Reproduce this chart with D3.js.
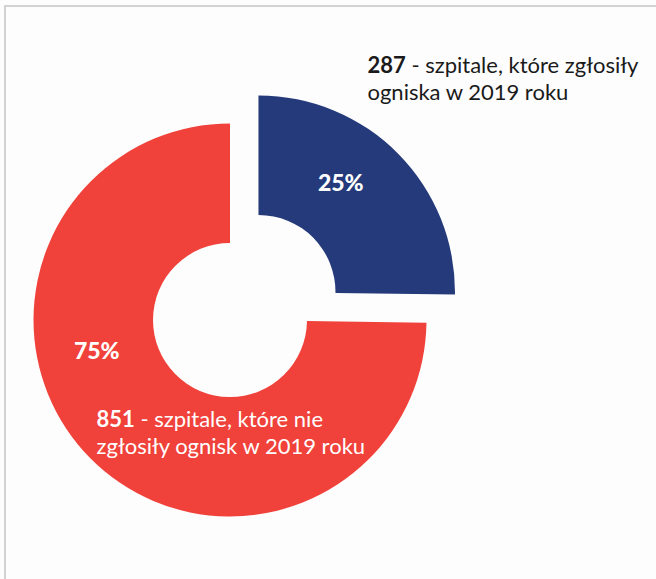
<!DOCTYPE html>
<html>
<head>
<meta charset="utf-8">
<script src="https://cdn.jsdelivr.net/npm/d3@7"></script>
<style>
  html, body { margin: 0; padding: 0; background: #fdfdfd; }
  svg { display: block; }
  text { font-family: Lato, "Open Sans", sans-serif; }
</style>
</head>
<body>
<div id="chart"></div>
<script>
// Hospitals reporting outbreaks in 2019
const categories = ["reported", "notReported"];
const counts = [287, 851];
const percents = ["25%", "75%"];
const countLabels = ["287", "851"];
const descriptions = [
  [" - szpitale, które zgłosiły", "ogniska w 2019 roku"],
  [" - szpitale, które nie", "zgłosiły ognisk w 2019 roku"]
];
const colors = ["#243a7a", "#f0423a"];

const width = 656, height = 579;
const cx = 230, cy = 320;
const outerR = 196.5, innerR = 77;
const explode = 40;

const svg = d3.select("#chart").append("svg")
  .attr("width", width).attr("height", height);

svg.append("rect").attr("width", width).attr("height", height).attr("fill", "#fdfdfd");

// frame along the top and left edges
svg.append("path")
  .attr("d", `M5,${height} V6 H${width}`)
  .attr("fill", "none")
  .attr("stroke", "#d2d2d2")
  .attr("stroke-width", 2);

const color = d3.scaleOrdinal().domain(categories).range(colors);

const pie = d3.pie().sort(null).value(d => d.value);
const data = categories.map((c, i) => ({ key: c, value: counts[i], pct: percents[i] }));
const arcs = pie(data);

const arc = d3.arc().innerRadius(innerR).outerRadius(outerR);

const g = svg.append("g").attr("transform", `translate(${cx},${cy})`);

// the smaller slice is pulled out along its mid angle
const offset = (d, i) => {
  if (i !== 0) return [0, 0];
  const mid = (d.startAngle + d.endAngle) / 2;
  return d3.pointRadial(mid, explode);
};

const slices = g.selectAll("g.slice").data(arcs).join("g")
  .attr("class", "slice")
  .attr("transform", (d, i) => `translate(${offset(d, i)})`);

slices.append("path")
  .attr("d", arc)
  .attr("fill", d => color(d.data.key));

// percentage labels inside each ring segment
const labelAngles = [37 * Math.PI / 180, 257 * Math.PI / 180];
slices.append("text")
  .attr("transform", (d, i) => `translate(${d3.pointRadial(labelAngles[i], (innerR + outerR) / 2)})`)
  .attr("text-anchor", "middle")
  .attr("dy", "0.35em")
  .attr("fill", "#ffffff")
  .attr("font-weight", 900)
  .attr("font-size", 23)
  .text(d => d.data.pct);

// descriptive captions
const captions = [
  { x: 367.5, y: 72.5, fill: "#1a1a1a" },
  { x: 96.5, y: 426.5, fill: "#ffffff" }
];
captions.forEach((c, i) => {
  const t = svg.append("text")
    .attr("x", c.x).attr("y", c.y)
    .attr("fill", c.fill)
    .attr("font-size", 22);
  t.append("tspan").attr("font-weight", 700).text(countLabels[i]);
  t.append("tspan").text(descriptions[i][0]);
  svg.append("text")
    .attr("x", c.x).attr("y", c.y + 27)
    .attr("fill", c.fill)
    .attr("font-size", 22)
    .text(descriptions[i][1]);
});
</script>
</body>
</html>
